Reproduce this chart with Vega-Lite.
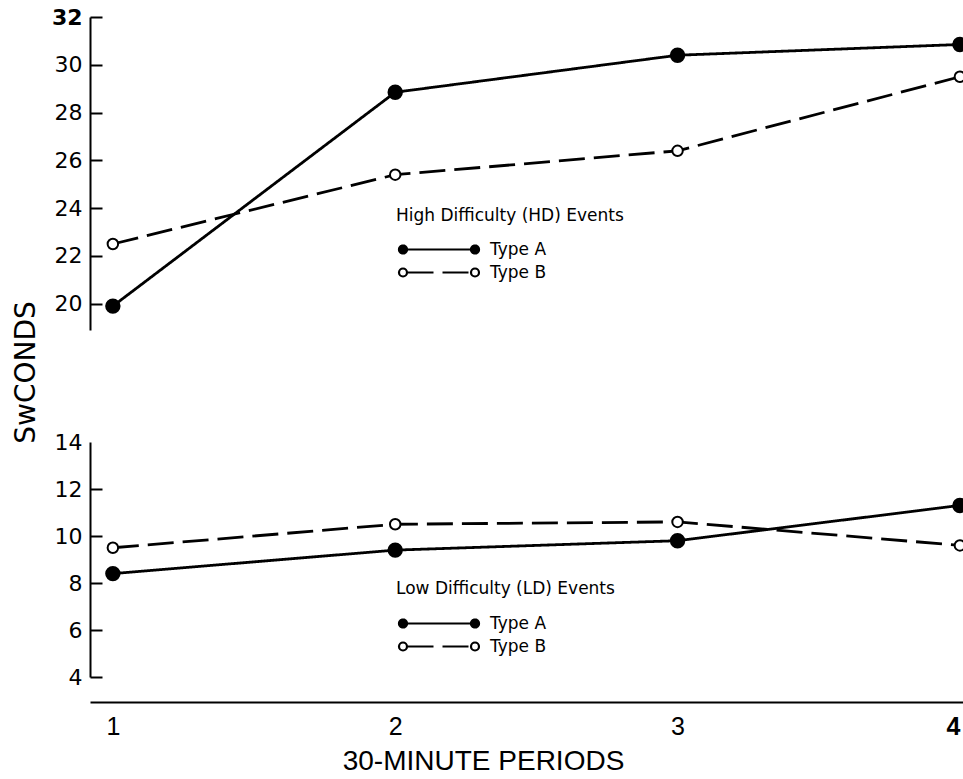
{
  "$schema": "https://vega.github.io/schema/vega-lite/v6.json",
  "padding": {"left": 12, "top": 6, "right": 0, "bottom": 0},
  "background": "white",
  "datasets": {
    "hd": [
      {"period": 1, "seconds": 19.9, "type": "Type A"},
      {"period": 2, "seconds": 28.85, "type": "Type A"},
      {"period": 3, "seconds": 30.4, "type": "Type A"},
      {"period": 4, "seconds": 30.85, "type": "Type A"},
      {"period": 1, "seconds": 22.5, "type": "Type B"},
      {"period": 2, "seconds": 25.4, "type": "Type B"},
      {"period": 3, "seconds": 26.4, "type": "Type B"},
      {"period": 4, "seconds": 29.5, "type": "Type B"}
    ],
    "ld": [
      {"period": 1, "seconds": 8.4, "type": "Type A"},
      {"period": 2, "seconds": 9.4, "type": "Type A"},
      {"period": 3, "seconds": 9.8, "type": "Type A"},
      {"period": 4, "seconds": 11.3, "type": "Type A"},
      {"period": 1, "seconds": 9.5, "type": "Type B"},
      {"period": 2, "seconds": 10.5, "type": "Type B"},
      {"period": 3, "seconds": 10.6, "type": "Type B"},
      {"period": 4, "seconds": 9.6, "type": "Type B"}
    ]
  },
  "config": {
    "font": "DejaVu Sans",
    "view": {"stroke": null},
    "axis": {"labelColor": "black", "domainColor": "black", "tickColor": "black", "titleColor": "black", "grid": false, "domainWidth": 2, "tickWidth": 2, "labelFont": "DejaVu Sans", "titleFont": "DejaVu Sans"},
    "legend": {"labelColor": "black", "titleColor": "black", "labelFont": "DejaVu Sans", "titleFont": "DejaVu Sans"}
  },
  "spacing": 112,
  "bounds": "flush",
  "resolve": {"scale": {"fill": "independent", "strokeDash": "independent", "x": "independent", "y": "independent"}, "legend": {"fill": "independent", "strokeDash": "independent"}},
  "vconcat": [
    {
      "width": 873,
      "height": 313,
      "data": {"name": "hd"},
      "encoding": {
        "x": {"field": "period", "type": "quantitative", "scale": {"domain": [0.919, 4.011], "nice": false, "zero": false}, "axis": null},
        "y": {"field": "seconds", "type": "quantitative", "scale": {"domain": [18.9, 32], "nice": false, "zero": false},
          "axis": {"values": [20, 22, 24, 26, 28, 30, 32], "title": "SwCONDS", "titleX": -64, "titleY": 355, "titleAngle": -90, "titleAlign": "center", "titleBaseline": "middle", "titleFontSize": 28, "titleFontWeight": "normal", "labelFontSize": 22, "labelFontWeight": {"condition": {"test": "datum.value === 32", "value": "bold"}, "value": "normal"}, "tickSize": -12, "labelPadding": 20}}
      },
      "layer": [
        {
          "mark": {"type": "line", "color": "black", "strokeWidth": 2.8, "clip": true},
          "encoding": {
            "strokeDash": {"field": "type", "type": "nominal", "scale": {"domain": ["Type A", "Type B"], "range": [[1, 0], [26, 9]]},
              "legend": {"title": "High Difficulty (HD) Events", "orient": "none", "legendX": 306, "legendY": 191, "symbolType": "M-3.15,0H3.15M-3.2,0a0.4,0.4 0 1,0 -0.8,0a0.4,0.4 0 1,0 0.8,0M4,0a0.4,0.4 0 1,0 -0.8,0a0.4,0.4 0 1,0 0.8,0", "symbolSize": 400, "symbolOffset": 31.5, "labelOffset": 39.5, "titleFontSize": 17, "titleFontWeight": "normal", "labelFontSize": 17, "titlePadding": 13, "rowPadding": 3, "symbolStrokeColor": "black", "symbolStrokeWidth": 2.2, "padding": 0, "titleLimit": 500}}
          }
        },
        {
          "transform": [{"filter": "datum.type === 'Type A'"}],
          "mark": {"type": "point", "shape": "circle", "filled": true, "stroke": "black", "strokeWidth": 2, "size": 180, "opacity": 1, "clip": true},
          "encoding": {
            "fill": {"field": "type", "type": "nominal", "scale": {"domain": ["Type A", "Type B"], "range": ["black", "white"]},
              "legend": {"title": "High Difficulty (HD) Events", "orient": "none", "legendX": 306, "legendY": 191, "symbolType": "M-3.15,0H3.15M-3.2,0a0.4,0.4 0 1,0 -0.8,0a0.4,0.4 0 1,0 0.8,0M4,0a0.4,0.4 0 1,0 -0.8,0a0.4,0.4 0 1,0 0.8,0", "symbolSize": 400, "symbolOffset": 31.5, "labelOffset": 39.5, "titleFontSize": 17, "titleFontWeight": "normal", "labelFontSize": 17, "titlePadding": 13, "rowPadding": 3, "symbolStrokeColor": "black", "symbolStrokeWidth": 2.2, "padding": 0, "titleLimit": 500}}
          }
        },
        {
          "transform": [{"filter": "datum.type === 'Type B'"}],
          "mark": {"type": "point", "shape": "circle", "filled": true, "stroke": "black", "strokeWidth": 2, "size": 110, "opacity": 1, "clip": true},
          "encoding": {
            "fill": {"field": "type", "type": "nominal", "scale": {"domain": ["Type A", "Type B"], "range": ["black", "white"]},
              "legend": {"title": "High Difficulty (HD) Events", "orient": "none", "legendX": 306, "legendY": 191, "symbolType": "M-3.15,0H3.15M-3.2,0a0.4,0.4 0 1,0 -0.8,0a0.4,0.4 0 1,0 0.8,0M4,0a0.4,0.4 0 1,0 -0.8,0a0.4,0.4 0 1,0 0.8,0", "symbolSize": 400, "symbolOffset": 31.5, "labelOffset": 39.5, "titleFontSize": 17, "titleFontWeight": "normal", "labelFontSize": 17, "titlePadding": 13, "rowPadding": 3, "symbolStrokeColor": "black", "symbolStrokeWidth": 2.2, "padding": 0, "titleLimit": 500}}
          }
        }
      ]
    },
    {
      "width": 873,
      "height": 235,
      "data": {"name": "ld"},
      "encoding": {
        "x": {"field": "period", "type": "quantitative", "scale": {"domain": [0.919, 4.011], "nice": false, "zero": false},
          "axis": {"values": [1, 2, 3, 4], "format": "d", "title": "30-MINUTE PERIODS", "titleFont": "Liberation Sans", "labelFont": "Liberation Sans", "labelFontSize": 25, "labelFontWeight": {"condition": {"test": "datum.value === 4", "value": "bold"}, "value": "normal"}, "labelFlush": 6, "titleFontSize": 28, "titleFontWeight": "normal", "titleX": 393, "titleAlign": "center", "ticks": false, "offset": 25, "labelPadding": 12, "titlePadding": 8}},
        "y": {"field": "seconds", "type": "quantitative", "scale": {"domain": [4, 14], "nice": false, "zero": false},
          "axis": {"values": [4, 6, 8, 10, 12, 14], "title": null, "labelFontSize": 22, "tickSize": -12, "labelPadding": 20, "tickOpacity": {"condition": {"test": "datum.value === 14", "value": 0}, "value": 1}}}
      },
      "layer": [
        {
          "mark": {"type": "line", "color": "black", "strokeWidth": 2.8, "clip": true},
          "encoding": {
            "strokeDash": {"field": "type", "type": "nominal", "scale": {"domain": ["Type A", "Type B"], "range": [[1, 0], [26, 9]]},
              "legend": {"title": "Low Difficulty (LD) Events", "orient": "none", "legendX": 306, "legendY": 139, "symbolType": "M-3.15,0H3.15M-3.2,0a0.4,0.4 0 1,0 -0.8,0a0.4,0.4 0 1,0 0.8,0M4,0a0.4,0.4 0 1,0 -0.8,0a0.4,0.4 0 1,0 0.8,0", "symbolSize": 400, "symbolOffset": 31.5, "labelOffset": 39.5, "titleFontSize": 17, "titleFontWeight": "normal", "labelFontSize": 17, "titlePadding": 14, "rowPadding": 3, "symbolStrokeColor": "black", "symbolStrokeWidth": 2.2, "padding": 0, "titleLimit": 500}}
          }
        },
        {
          "transform": [{"filter": "datum.type === 'Type A'"}],
          "mark": {"type": "point", "shape": "circle", "filled": true, "stroke": "black", "strokeWidth": 2, "size": 180, "opacity": 1, "clip": true},
          "encoding": {
            "fill": {"field": "type", "type": "nominal", "scale": {"domain": ["Type A", "Type B"], "range": ["black", "white"]},
              "legend": {"title": "Low Difficulty (LD) Events", "orient": "none", "legendX": 306, "legendY": 139, "symbolType": "M-3.15,0H3.15M-3.2,0a0.4,0.4 0 1,0 -0.8,0a0.4,0.4 0 1,0 0.8,0M4,0a0.4,0.4 0 1,0 -0.8,0a0.4,0.4 0 1,0 0.8,0", "symbolSize": 400, "symbolOffset": 31.5, "labelOffset": 39.5, "titleFontSize": 17, "titleFontWeight": "normal", "labelFontSize": 17, "titlePadding": 14, "rowPadding": 3, "symbolStrokeColor": "black", "symbolStrokeWidth": 2.2, "padding": 0, "titleLimit": 500}}
          }
        },
        {
          "transform": [{"filter": "datum.type === 'Type B'"}],
          "mark": {"type": "point", "shape": "circle", "filled": true, "stroke": "black", "strokeWidth": 2, "size": 110, "opacity": 1, "clip": true},
          "encoding": {
            "fill": {"field": "type", "type": "nominal", "scale": {"domain": ["Type A", "Type B"], "range": ["black", "white"]},
              "legend": {"title": "Low Difficulty (LD) Events", "orient": "none", "legendX": 306, "legendY": 139, "symbolType": "M-3.15,0H3.15M-3.2,0a0.4,0.4 0 1,0 -0.8,0a0.4,0.4 0 1,0 0.8,0M4,0a0.4,0.4 0 1,0 -0.8,0a0.4,0.4 0 1,0 0.8,0", "symbolSize": 400, "symbolOffset": 31.5, "labelOffset": 39.5, "titleFontSize": 17, "titleFontWeight": "normal", "labelFontSize": 17, "titlePadding": 14, "rowPadding": 3, "symbolStrokeColor": "black", "symbolStrokeWidth": 2.2, "padding": 0, "titleLimit": 500}}
          }
        }
      ]
    }
  ]
}
